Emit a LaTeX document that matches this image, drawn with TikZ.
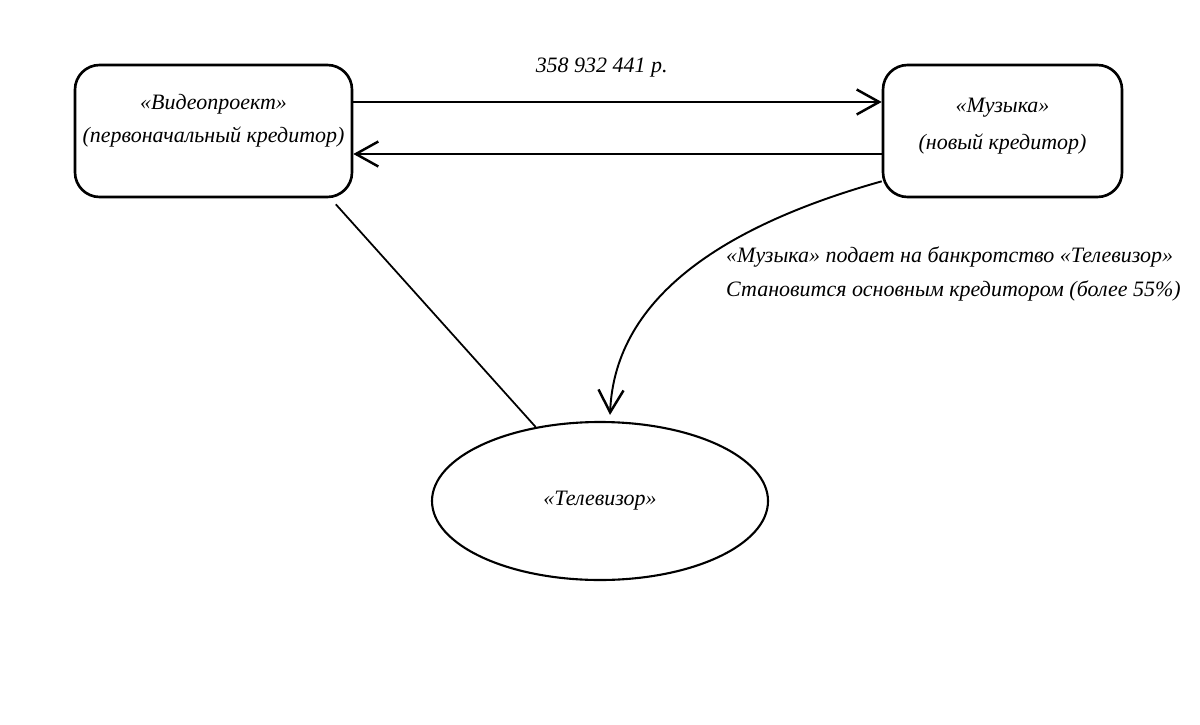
\documentclass[tikz,border=0pt]{standalone}
\usepackage{fontspec}
\setmainfont{Liberation Serif}
\usetikzlibrary{arrows.meta,shapes.geometric}
\newcommand{\hand}{\fontsize{12.5}{19}\selectfont\itshape}
\tikzset{
  party/.style={draw,line width=1.5pt,rounded corners=14pt,minimum width=#1,minimum height=2.64cm},
  partytext/.style={font=\hand,align=center,yshift=#1},
  debtor/.style={draw,ellipse,line width=1.2pt,minimum width=6.72cm,minimum height=3.16cm,font=\hand},
  flow/.style={line width=1.1pt,-{Straight Barb[length=0.45cm,width=0.5cm,line width=1.4pt]}},
}

\begin{document}
\begin{tikzpicture}
  \useasboundingbox (0,0) rectangle (24,14.48);

  % creditors
  \node[party=5.54cm,label={[partytext=0.2cm]center:«Видеопроект»\\(первоначальный кредитор)}] (videoproj) at (4.27,11.86) {};
  \node[party=4.78cm,label={[partytext=0.1cm]center:«Музыка»\\[2pt](новый кредитор)}] (muzyka) at (20.05,11.86) {};

  % debtor
  \node[debtor] (televizor) at (12,4.46) {«Телевизор»};

  % claim sold and paid for
  \draw[flow] ([yshift=0.58cm]videoproj.east) -- ([yshift=0.58cm]muzyka.west)
    node[pos=0.47,above=0.35cm,font=\hand] (summa) {358 932 441 р.};
  \draw[flow] ([yshift=-0.46cm]muzyka.west) -- ([yshift=-0.46cm]videoproj.east);

  \draw[line width=1pt] ([xshift=-0.35cm,yshift=-0.12cm]videoproj.south east) -- (televizor.131);

  % bankruptcy
  \draw[flow] ([yshift=0.34cm]muzyka.south west) .. controls (14.6,10.0) and (12.3,8.6) .. ([shift={(0.2cm,0.12cm)}]televizor.north);
  \node[font=\hand,align=left,anchor=west] (bankrot) at (14.4,9.0)
    {«Музыка» подает на банкротство «Телевизор»\\Становится основным кредитором (более 55\%)};
\end{tikzpicture}
\end{document}
